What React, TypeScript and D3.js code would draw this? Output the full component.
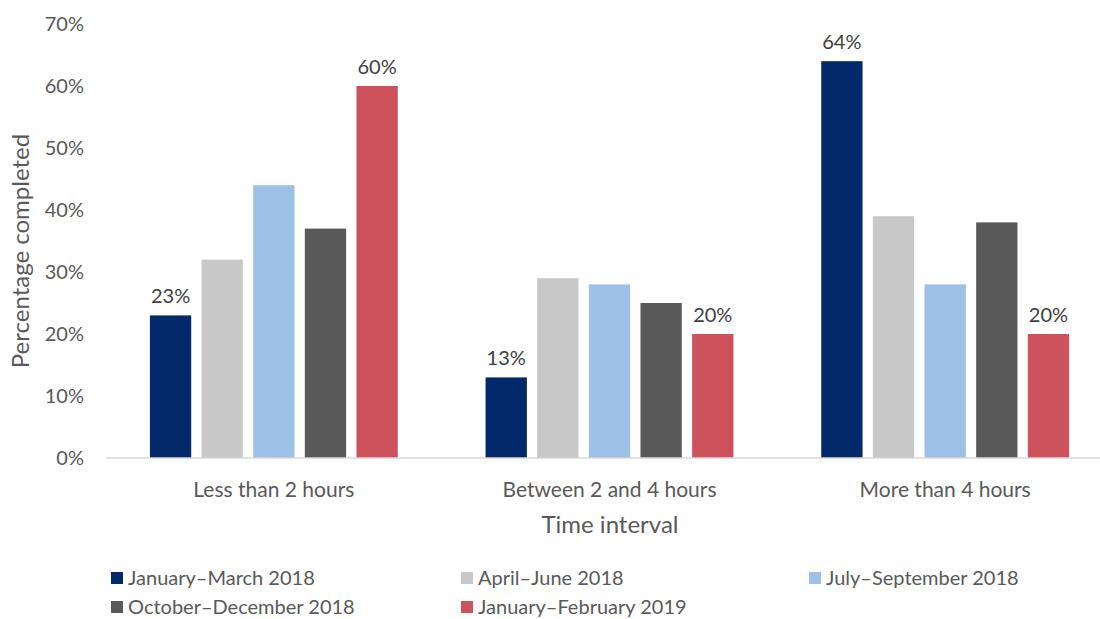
import React from 'react';
import * as d3 from 'd3';

// Chart data
const categories = ['Less than 2 hours', 'Between 2 and 4 hours', 'More than 4 hours'];
const seriesNames = [
  'January–March 2018',
  'April–June 2018',
  'July–September 2018',
  'October–December 2018',
  'January–February 2019',
];
const janMar2018 = [23, 13, 64];
const aprJun2018 = [32, 29, 39];
const julSep2018 = [44, 28, 28];
const octDec2018 = [37, 25, 38];
const janFeb2019 = [60, 20, 20];
const yTicks = [0, 10, 20, 30, 40, 50, 60, 70];
// only these series carry value labels
const labelledSeries = [0, 4];

const colors = ['#022A6B', '#C8C8C8', '#9DC0E6', '#595959', '#CD525B'];
const textColor = '#595959';
const font = 'Lato, "Open Sans", sans-serif';

const width = 1100;
const height = 619;
const plot = { left: 106, right: 1113, top: 24, bottom: 458 };

const App = () => {
  const series = [janMar2018, aprJun2018, julSep2018, octDec2018, janFeb2019];

  const y = d3.scaleLinear().domain([0, 70]).range([plot.bottom, plot.top]);
  const x0 = d3.scaleBand<string>().domain(categories).range([plot.left, plot.right]).padding(0);
  const x1 = d3
    .scaleBand<number>()
    .domain(d3.range(seriesNames.length))
    .range([0, x0.bandwidth()])
    .paddingInner(0.2)
    .paddingOuter(0.85);

  // legend layout: 3 columns, 2 rows
  const legendCols = [111, 461, 809];
  const legendRows = [578, 607];

  return (
    <div style={{ position: 'absolute', left: 0, top: 0 }}>
      <svg width={width} height={height} style={{ display: 'block', fontFamily: font }}>
        <rect width={width} height={height} fill='#fff' />

        {/* y ticks */}
        {yTicks.map((t) => (
          <text
            key={t}
            x={84}
            y={y(t)}
            dy='0.35em'
            textAnchor='end'
            fontSize={20}
            fill={textColor}
          >
            {t}%
          </text>
        ))}

        {/* y title */}
        <text
          transform={`translate(29, ${(plot.top + plot.bottom) / 2 + 10}) rotate(-90)`}
          textAnchor='middle'
          fontSize={24}
          fill={textColor}
        >
          Percentage completed
        </text>

        {/* bars */}
        {categories.map((c, ci) => (
          <g key={c} transform={`translate(${x0(c)}, 0)`}>
            {series.map((s, si) => (
              <rect
                key={si}
                x={x1(si)}
                y={y(s[ci])}
                width={x1.bandwidth()}
                height={plot.bottom - y(s[ci])}
                fill={colors[si]}
              />
            ))}
            {labelledSeries.map((si) => (
              <text
                key={`l${si}`}
                x={(x1(si) as number) + x1.bandwidth() / 2}
                y={y(series[si][ci]) - 12}
                textAnchor='middle'
                fontSize={20}
                fill='#404040'
              >
                {series[si][ci]}%
              </text>
            ))}
          </g>
        ))}

        {/* x axis line */}
        <line x1={plot.left} x2={plot.right} y1={plot.bottom} y2={plot.bottom} stroke='#D9D9D9' strokeWidth={1.5} />

        {/* category labels */}
        {categories.map((c) => (
          <text
            key={c}
            x={(x0(c) as number) + x0.bandwidth() / 2}
            y={497}
            textAnchor='middle'
            fontSize={21}
            fill={textColor}
          >
            {c}
          </text>
        ))}

        {/* x title */}
        <text x={610} y={533} textAnchor='middle' fontSize={24} fill={textColor}>
          Time interval
        </text>

        {/* legend */}
        {seriesNames.map((name, i) => {
          const lx = legendCols[i % 3];
          const ly = legendRows[Math.floor(i / 3)];
          return (
            <g key={name}>
              <rect x={lx} y={ly - 6} width={12} height={12} fill={colors[i]} />
              <text x={lx + 17} y={ly} dy='0.35em' fontSize={20} fill={textColor}>
                {name}
              </text>
            </g>
          );
        })}
      </svg>
    </div>
  );
};

export default App;
